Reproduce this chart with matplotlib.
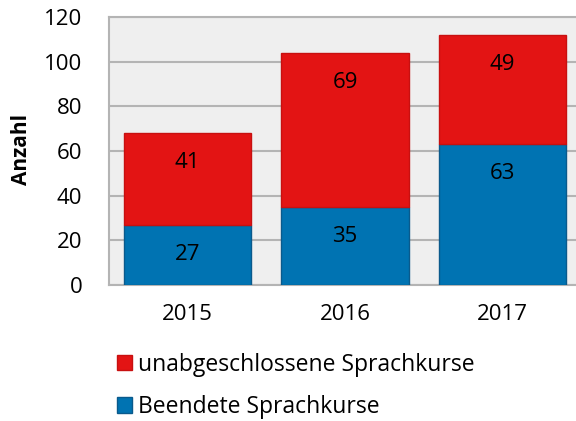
import matplotlib
matplotlib.use("Agg")
import matplotlib.pyplot as plt
from matplotlib.patches import Patch
import numpy as np

years = ["2015", "2016", "2017"]
beendet = [27, 35, 63]
unabgeschlossen = [41, 69, 49]

red = "#e31414"
blue = "#0073b2"

plt.rcParams['font.family'] = ['Open Sans', 'DejaVu Sans']

fig = plt.figure(figsize=(5.76, 4.21), dpi=100)
ax = fig.add_axes([0.189, 0.323, 0.82, 0.637])
ax.set_facecolor("#efefef")

x = np.arange(len(years))
w = 0.81
ax.bar(x, beendet, w, color=blue, edgecolor="#0a5a8c", linewidth=1, zorder=3)
ax.bar(x, unabgeschlossen, w, bottom=beendet, color=red, edgecolor="#c81010",
       linewidth=1, zorder=3)

# labels sit near the inner top of each segment
for i in range(len(years)):
    top1 = beendet[i]
    top2 = beendet[i] + unabgeschlossen[i]
    ax.text(x[i], top1 - 13.3, str(beendet[i]), ha="center", va="center",
            fontsize=16, zorder=4)
    ax.text(x[i], top2 - 13.3, str(unabgeschlossen[i]), ha="center", va="center",
            fontsize=16, zorder=4)

ax.set_xlim(-0.5, 2.5)
ax.set_ylim(0, 120)
ax.set_yticks(range(0, 121, 20))
ax.set_xticks(x)
ax.set_xticklabels(years)
ax.tick_params(axis="both", length=0, labelsize=16)
ax.tick_params(axis="y", pad=19)
ax.tick_params(axis="x", pad=14)
ax.yaxis.grid(True, color="#b4b4b4", linewidth=1.5, zorder=0)
for s in ax.spines.values():
    s.set_color("#b4b4b4")
    s.set_linewidth(1.5)
ax.set_ylabel("Anzahl", fontsize=15, fontweight="bold")
ax.yaxis.set_label_coords(-0.163, 0.507)

handles = [Patch(facecolor=red, edgecolor="#c81010", label="unabgeschlossene Sprachkurse"),
           Patch(facecolor=blue, edgecolor="#0a5a8c", label="Beendete Sprachkurse")]
fig.legend(handles=handles, loc="upper left", bbox_to_anchor=(0.203, 0.162),
           frameon=False, fontsize=16.5, handlelength=0.66, handleheight=0.66,
           handletextpad=0.26, labelspacing=0.8, borderaxespad=0, borderpad=0)

fig.savefig("out.png", dpi=100)
